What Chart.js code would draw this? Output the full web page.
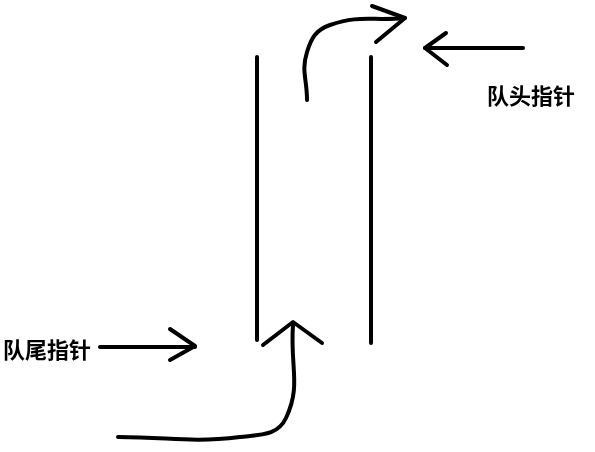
<!DOCTYPE html>
<html lang="zh">
<head>
    <meta charset="UTF-8">
    <title>队列指针示意</title>
    <style>
        html, body { margin: 0; padding: 0; background: #fff; }
        #wrap { width: 595px; height: 452px; }
    </style>
</head>
<body>
    <div id="wrap"><canvas id="queueChart" width="595" height="452"></canvas></div>
    <script src="https://cdn.jsdelivr.net/npm/chart.js"></script>
    <script>
        // Strokes of the drawing, in picture units (x right, y down)
        const leftWall = [{x: 257, y: 57}, {x: 257, y: 340}];
        const rightWall = [{x: 371, y: 57}, {x: 371, y: 343}];
        const headCurve = [{x: 307, y: 100}, {x: 307, y: 52}, {x: 330, y: 25}, {x: 405, y: 18}];
        const headCurveTip = [{x: 372, y: 6}, {x: 405, y: 18}, {x: 376, y: 42}];
        const headPointer = [{x: 523, y: 48}, {x: 425, y: 48}];
        const headPointerTip = [{x: 446, y: 33}, {x: 425, y: 48}, {x: 447, y: 65}];
        const tailPointer = [{x: 100, y: 347}, {x: 195, y: 347}];
        const tailPointerTip = [{x: 170, y: 329}, {x: 195, y: 346}, {x: 170, y: 360}];
        const tailCurve = [{x: 118, y: 437}, {x: 240, y: 437}, {x: 286, y: 418}, {x: 293, y: 325}];
        const tailCurveTip = [{x: 263, y: 345}, {x: 293, y: 322}, {x: 322, y: 343}];
        const labels = [
            {text: '队头指针', x: 487, y: 96, align: 'left'},
            {text: '队尾指针', x: 3, y: 350, align: 'left'}
        ];

        function stroke(points, curved) {
            return {
                data: points,
                showLine: true,
                borderColor: '#000',
                borderWidth: 4,
                pointRadius: 0,
                tension: curved ? 0.45 : 0,
                borderCapStyle: 'round',
                borderJoinStyle: 'round',
                fill: false
            };
        }

        const labelPlugin = {
            id: 'labels',
            afterDatasetsDraw(chart) {
                const ctx = chart.ctx;
                const xs = chart.scales.x, ys = chart.scales.y;
                ctx.save();
                ctx.fillStyle = '#000';
                ctx.font = 'bold 22px "Noto Sans CJK SC", sans-serif';
                ctx.textBaseline = 'middle';
                labels.forEach(l => {
                    ctx.textAlign = l.align;
                    ctx.fillText(l.text, xs.getPixelForValue(l.x), ys.getPixelForValue(l.y));
                });
                ctx.restore();
            }
        };

        new Chart(document.getElementById('queueChart'), {
            type: 'scatter',
            data: {
                datasets: [
                    stroke(leftWall), stroke(rightWall),
                    stroke(headCurve, true), stroke(headCurveTip),
                    stroke(headPointer), stroke(headPointerTip),
                    stroke(tailPointer), stroke(tailPointerTip),
                    stroke(tailCurve, true), stroke(tailCurveTip)
                ]
            },
            options: {
                responsive: false,
                animation: false,
                layout: { padding: 0 },
                plugins: { legend: { display: false }, tooltip: { enabled: false } },
                scales: {
                    x: { type: 'linear', min: 0, max: 595, display: false },
                    y: { type: 'linear', min: 0, max: 452, reverse: true, display: false }
                }
            },
            plugins: [labelPlugin]
        });
    </script>
</body>
</html>
